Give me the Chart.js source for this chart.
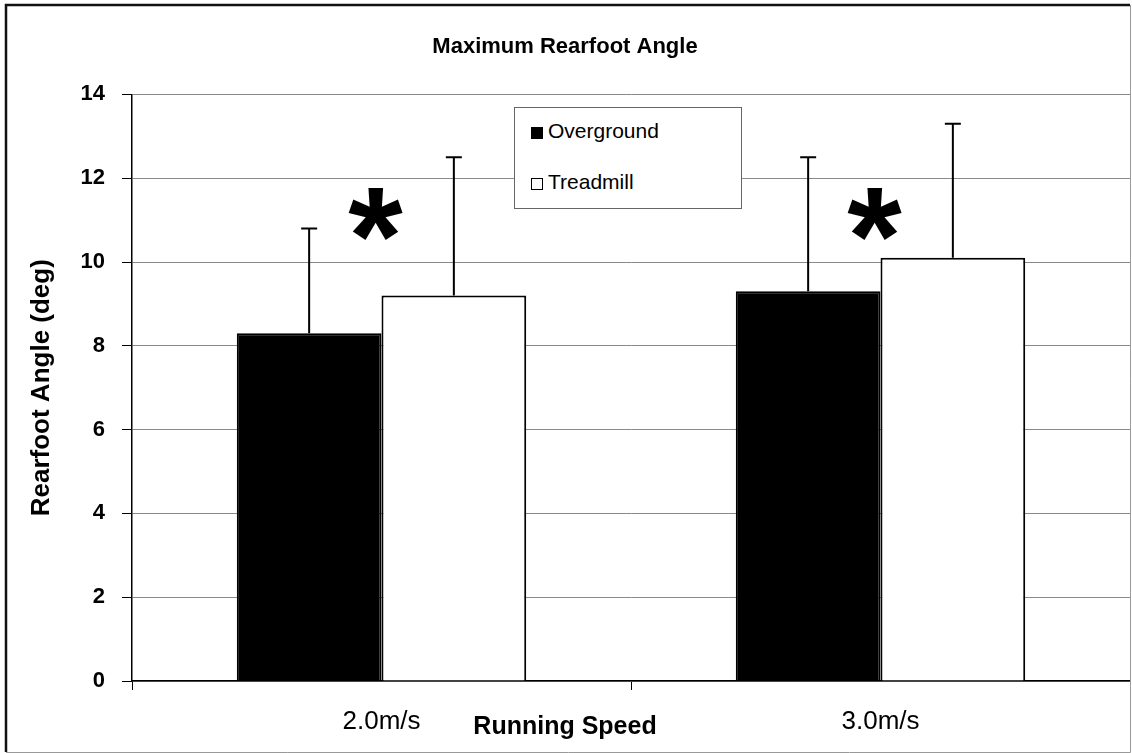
<!DOCTYPE html>
<html>
<head>
<meta charset="utf-8">
<script src="https://cdn.jsdelivr.net/npm/chart.js@4.4.1/dist/chart.umd.min.js"></script>
<style>
  html, body { margin: 0; padding: 0; background: #fff; }
  #wrap { position: relative; width: 1132px; height: 753px; }
  #legend {
    position: absolute; left: 514px; top: 107px; width: 228px; height: 102px;
    box-sizing: border-box; border: 1px solid #666; background: #fff;
    font-family: 'Liberation Sans', Arial, sans-serif; font-size: 21px; color: #000;
  }
  #legend .item { position: absolute; left: 16px; height: 24px; line-height: 24px; white-space: nowrap; }
  #legend .box { display: inline-block; width: 12px; height: 12px; border: 1.5px solid #000; box-sizing: border-box; margin-right: 5px; vertical-align: -1px; }
</style>
</head>
<body>
<div id="wrap">
  <canvas id="myChart" width="1132" height="753"></canvas>
  <div id="legend"></div>
</div>
<script>
// data
const categories = ['2.0m/s', '3.0m/s'];
const overground = [8.3, 9.3];
const treadmill = [9.2, 10.1];
const overgroundSD = [2.5, 3.2];
const treadmillSD = [3.3, 3.2];
const significant = [true, true];
const asteriskLevel = [11.15, 11.15];
const yTicks = [0, 2, 4, 6, 8, 10, 12, 14];

// white page + frame around everything
const framePlugin = {
    id: 'frame',
    beforeDraw(chart) {
        const ctx = chart.ctx;
        ctx.save();
        ctx.fillStyle = '#fff';
        ctx.fillRect(0, 0, chart.width, chart.height);
        ctx.restore();
    },
    afterDraw(chart) {
        const ctx = chart.ctx;
        ctx.save();
        ctx.strokeStyle = '#111';
        ctx.lineWidth = 2.5;
        ctx.beginPath();
        ctx.moveTo(6, 752);
        ctx.lineTo(6, 5);
        ctx.lineTo(1130, 5);
        ctx.stroke();
        ctx.strokeStyle = '#999';
        ctx.lineWidth = 1;
        ctx.beginPath();
        ctx.moveTo(1130.5, 5);
        ctx.lineTo(1130.5, 752.5);
        ctx.lineTo(6, 752.5);
        ctx.stroke();
        ctx.restore();
    }
};

// upper error bars only
const errorBarPlugin = {
    id: 'errorBars',
    afterDatasetsDraw(chart) {
        const ctx = chart.ctx;
        const y = chart.scales.y;
        ctx.save();
        ctx.strokeStyle = '#000';
        ctx.lineWidth = 2;
        chart.data.datasets.forEach((ds, i) => {
            const meta = chart.getDatasetMeta(i);
            meta.data.forEach((bar, j) => {
                const top = y.getPixelForValue(ds.data[j] + ds.errorBars[j]);
                ctx.beginPath();
                ctx.moveTo(bar.x, bar.y);
                ctx.lineTo(bar.x, top);
                ctx.moveTo(bar.x - 8, top);
                ctx.lineTo(bar.x + 8, top);
                ctx.stroke();
            });
        });
        ctx.restore();
    }
};

// significance asterisks
const asteriskPlugin = {
    id: 'asterisks',
    afterDatasetsDraw(chart) {
        const ctx = chart.ctx;
        const { x, y } = chart.scales;
        ctx.save();
        ctx.fillStyle = '#000';
        ctx.font = 'bold 140px "Liberation Sans", Arial, sans-serif';
        ctx.textAlign = 'center';
        ctx.textBaseline = 'alphabetic';
        const m = ctx.measureText('*');
        const mid = (m.actualBoundingBoxAscent - m.actualBoundingBoxDescent) / 2;
        significant.forEach((s, j) => {
            if (!s) return;
            const cx = x.getPixelForValue(j) - 6;
            const cy = y.getPixelForValue(asteriskLevel[j]);
            ctx.fillText('*', cx, cy + mid);
        });
        ctx.restore();
    }
};

const ctx = document.getElementById('myChart').getContext('2d');
const myChart = new Chart(ctx, {
    type: 'bar',
    data: {
        labels: categories,
        datasets: [{
            label: 'Overground',
            data: overground,
            errorBars: overgroundSD,
            backgroundColor: '#000',
            borderColor: '#000',
            borderWidth: 2
        }, {
            label: 'Treadmill',
            data: treadmill,
            errorBars: treadmillSD,
            backgroundColor: '#fff',
            borderColor: '#000',
            borderWidth: 2
        }]
    },
    options: {
        responsive: false,
        animation: false,
        devicePixelRatio: 1,
        categoryPercentage: 0.58,
        barPercentage: 1.0,
        layout: { padding: { left: 0, top: 14, right: 2, bottom: 8 } },
        plugins: {
            legend: { display: false },
            tooltip: { enabled: false },
            title: {
                display: true,
                text: 'Maximum Rearfoot Angle',
                color: '#000',
                font: { family: '"Liberation Sans", Arial, sans-serif', size: 22, weight: 'bold' },
                padding: { top: 20, bottom: 34 }
            },
            subtitle: {
                display: true,
                position: 'bottom',
                text: 'Running Speed',
                color: '#000',
                font: { family: '"Liberation Sans", Arial, sans-serif', size: 25, weight: 'bold' },
                padding: { top: -23, bottom: 3 }
            }
        },
        scales: {
            x: {
                grid: { display: true, drawOnChartArea: false, offset: true, tickLength: 9, tickColor: '#000' },
                border: { color: '#000', width: 1.5 },
                ticks: {
                    color: '#000',
                    padding: 16,
                    font: { family: '"Liberation Sans", Arial, sans-serif', size: 26 }
                },
                afterFit(scale) { scale.height = 54; }
            },
            y: {
                min: 0,
                max: 14,
                afterBuildTicks(scale) { scale.ticks = yTicks.map(v => ({ value: v })); },
                grid: { color: '#8a8a8a', lineWidth: 1, tickLength: 10, tickColor: '#000' },
                border: { color: '#000', width: 1.5 },
                ticks: {
                    color: '#000',
                    padding: 17,
                    font: { family: '"Liberation Sans", Arial, sans-serif', size: 22, weight: 'bold' }
                },
                title: {
                    display: true,
                    text: 'Rearfoot Angle (deg)',
                    color: '#000',
                    font: { family: '"Liberation Sans", Arial, sans-serif', size: 26, weight: 'bold' },
                    padding: { top: 26, bottom: 0 }
                },
                afterFit(scale) { scale.width = 132; }
            }
        }
    },
    plugins: [framePlugin, errorBarPlugin, asteriskPlugin]
});

// legend box inside the plot
const legendEl = document.getElementById('legend');
const rowTops = [11, 62];
myChart.data.datasets.forEach((ds, i) => {
    const item = document.createElement('div');
    item.className = 'item';
    item.style.top = rowTops[i] + 'px';
    const box = document.createElement('span');
    box.className = 'box';
    box.style.background = ds.backgroundColor;
    item.appendChild(box);
    item.appendChild(document.createTextNode(ds.label));
    legendEl.appendChild(item);
});
</script>
</body>
</html>
